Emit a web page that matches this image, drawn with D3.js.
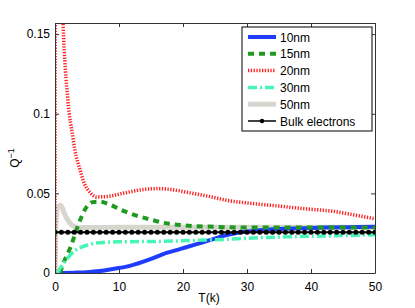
<!DOCTYPE html>
<html>
<head>
<meta charset="utf-8">
<script src="https://cdn.jsdelivr.net/npm/d3@7"></script>
<style>
  body { margin: 0; background: #fff; }
  svg { font-family: "Liberation Sans", Arial, sans-serif; }
</style>
</head>
<body>
<div id="chart"></div>
<script>
'use strict';

// --- Data (T in K, Q^-1)
var t10 = [0.8, 3, 5, 7, 9, 11.7, 14.8, 17, 19.5, 22, 24.2, 27, 29, 32, 35, 38, 42, 46, 50];
var q10 = [0, 0.0002, 0.0005, 0.0012, 0.0025, 0.0045, 0.0085, 0.012, 0.015, 0.018, 0.0206, 0.024, 0.0256, 0.0268, 0.0276, 0.028, 0.0285, 0.0288, 0.029];

var t15 = [0.8, 1.2, 2.4, 3.9, 4.7, 5.9, 7, 8.1, 10.7, 12, 15, 17, 20, 25, 30, 40, 50];
var q15 = [0, 0.005, 0.016, 0.033, 0.040, 0.0445, 0.0448, 0.0437, 0.039, 0.037, 0.0335, 0.0315, 0.030, 0.029, 0.0285, 0.0285, 0.0285];

var t20 = [0, 0.1, 0.6, 1.25, 2.0, 2.8, 3.1, 3.9, 4.5, 5.5, 6.5, 8, 10, 12, 14, 16, 18, 21, 25, 27, 30, 35, 40, 43, 46, 50];
var q20 = [0, 0.40, 0.25, 0.157, 0.109, 0.085, 0.0775, 0.065, 0.057, 0.0505, 0.0478, 0.048, 0.0495, 0.0512, 0.0525, 0.053, 0.0525, 0.0504, 0.0473, 0.0455, 0.044, 0.042, 0.040, 0.039, 0.037, 0.034];

var t30 = [0.4, 0.8, 1.6, 3.1, 4.5, 6, 8, 10, 12, 17, 22, 27, 32, 37, 42, 48, 50];
var q30 = [0, 0.003, 0.0075, 0.014, 0.0168, 0.0185, 0.0193, 0.0196, 0.0197, 0.0199, 0.0205, 0.0212, 0.0222, 0.0228, 0.0232, 0.0238, 0.024];

var t50 = [0, 0.15, 0.3, 0.6, 0.9, 1.5, 2.2, 3, 4, 6, 10, 20, 30, 50];
var q50 = [0, 0.03, 0.039, 0.042, 0.0425, 0.037, 0.032, 0.0292, 0.0285, 0.0286, 0.0287, 0.0288, 0.0288, 0.0288];

var bulkQ = 0.0256;
var bulkT = d3.range(0, 51, 1);

var seriesNames = ['10nm', '15nm', '20nm', '30nm', '50nm', 'Bulk electrons'];
var xTicks = [0, 10, 20, 30, 40, 50];
var yTicks = [0, 0.05, 0.1, 0.15];
var yTickLabels = ['0', '0.05', '0.1', '0.15'];

// --- Layout
var width = 415, height = 308;
var m = { left: 55, right: 40, top: 23, bottom: 35 };
var iw = width - m.left - m.right;
var ih = height - m.top - m.bottom;

var x = d3.scaleLinear().domain([0, 50]).range([0, iw]);
var y = d3.scaleLinear().domain([0, 0.157]).range([ih, 0]);

function zip(ts, qs) {
  return ts.map(function(t, i) { return [t, qs[i]]; });
}

var styles = [
  { data: zip(t10, q10), color: '#1f3cff', width: 4, dash: null },
  { data: zip(t15, q15), color: '#1f9a1f', width: 4, dash: '6,5' },
  { data: zip(t20, q20), color: '#ff2020', width: 3.5, dash: '1.3,1.5' },
  { data: zip(t30, q30), color: '#47f5b5', width: 3.5, dash: '9,3,2,3' },
  { data: zip(t50, q50), color: '#d6d6ce', width: 5, dash: null }
];

var svg = d3.select('#chart').append('svg')
  .attr('width', width)
  .attr('height', height);

svg.append('defs').append('clipPath').attr('id', 'clip')
  .append('rect').attr('width', iw).attr('height', ih);

var g = svg.append('g').attr('transform', 'translate(' + m.left + ',' + m.top + ')');

var line = d3.line()
  .x(function(d) { return x(d[0]); })
  .y(function(d) { return y(d[1]); })
  .curve(d3.curveMonotoneX);

var plot = g.append('g').attr('clip-path', 'url(#clip)');

// draw 50nm underneath the others
[4, 0, 1, 2, 3].forEach(function(i) {
  var s = styles[i];
  plot.append('path')
    .attr('d', line(s.data))
    .attr('fill', 'none')
    .attr('stroke', s.color)
    .attr('stroke-width', s.width)
    .attr('stroke-dasharray', s.dash);
});

// --- Bulk electrons
plot.append('line')
  .attr('x1', x(0)).attr('x2', x(50))
  .attr('y1', y(bulkQ)).attr('y2', y(bulkQ))
  .attr('stroke', '#000').attr('stroke-width', 2);
plot.selectAll('.bulk').data(bulkT).enter()
  .append('circle')
  .attr('class', 'bulk')
  .attr('cx', function(d) { return x(d); })
  .attr('cy', y(bulkQ))
  .attr('r', 2.5)
  .attr('fill', '#000');

// --- Axes (MATLAB style box, inward ticks)
var axisColor = '#333';
var tl = 4;

var axB = g.append('g').attr('transform', 'translate(0,' + ih + ')')
  .call(d3.axisBottom(x).tickValues(xTicks).tickSizeInner(-tl).tickSizeOuter(0).tickPadding(9));
var axT = g.append('g')
  .call(d3.axisTop(x).tickValues(xTicks).tickSizeInner(-tl).tickSizeOuter(0).tickFormat(''));
var axL = g.append('g')
  .call(d3.axisLeft(y).tickValues(yTicks).tickSizeInner(-tl).tickSizeOuter(0).tickPadding(5)
    .tickFormat(function(d, i) { return yTickLabels[i]; }));
var axR = g.append('g').attr('transform', 'translate(' + iw + ',0)')
  .call(d3.axisRight(y).tickValues(yTicks).tickSizeInner(-tl).tickSizeOuter(0).tickFormat(''));

[axB, axT, axL, axR].forEach(function(a) {
  a.select('.domain').attr('stroke', axisColor);
  a.selectAll('.tick line').attr('stroke', axisColor);
  a.selectAll('.tick text').attr('fill', '#000').style('font-size', '12px').style('font-family', '"Liberation Sans", Arial, sans-serif');
});

// --- Axis labels
svg.append('text')
  .attr('x', m.left + iw / 2 - 6)
  .attr('y', 302)
  .attr('text-anchor', 'middle')
  .style('font-size', '12px')
  .text('T(k)');

var ylab = svg.append('text')
  .attr('transform', 'translate(19,' + (m.top + ih / 2 + 10) + ') rotate(-90)')
  .attr('text-anchor', 'middle')
  .style('font-size', '12px');
ylab.append('tspan').text('Q');
ylab.append('tspan').attr('dy', -5).style('font-size', '9px').text('−1');

// --- Legend
var lx = 242, ly = 27, lw = 130, lh = 104;
var leg = svg.append('g').attr('transform', 'translate(' + lx + ',' + ly + ')');
leg.append('rect')
  .attr('width', lw).attr('height', lh)
  .attr('fill', '#fff').attr('stroke', '#000').attr('stroke-width', 1);

seriesNames.forEach(function(name, i) {
  var ry = 10 + i * 16.8;
  var item = leg.append('g').attr('transform', 'translate(0,' + ry + ')');
  if (i < 5) {
    var s = styles[i];
    item.append('line')
      .attr('x1', 6).attr('x2', 34).attr('y1', 0).attr('y2', 0)
      .attr('stroke', s.color)
      .attr('stroke-width', s.width)
      .attr('stroke-dasharray', s.dash);
  } else {
    item.append('line')
      .attr('x1', 6).attr('x2', 34).attr('y1', 0).attr('y2', 0)
      .attr('stroke', '#000').attr('stroke-width', 1.5);
    item.append('circle').attr('cx', 20).attr('cy', 0).attr('r', 2.2).attr('fill', '#000');
  }
  item.append('text')
    .attr('x', 38).attr('y', 4.5)
    .style('font-size', '12px')
    .text(name);
});
</script>
</body>
</html>
